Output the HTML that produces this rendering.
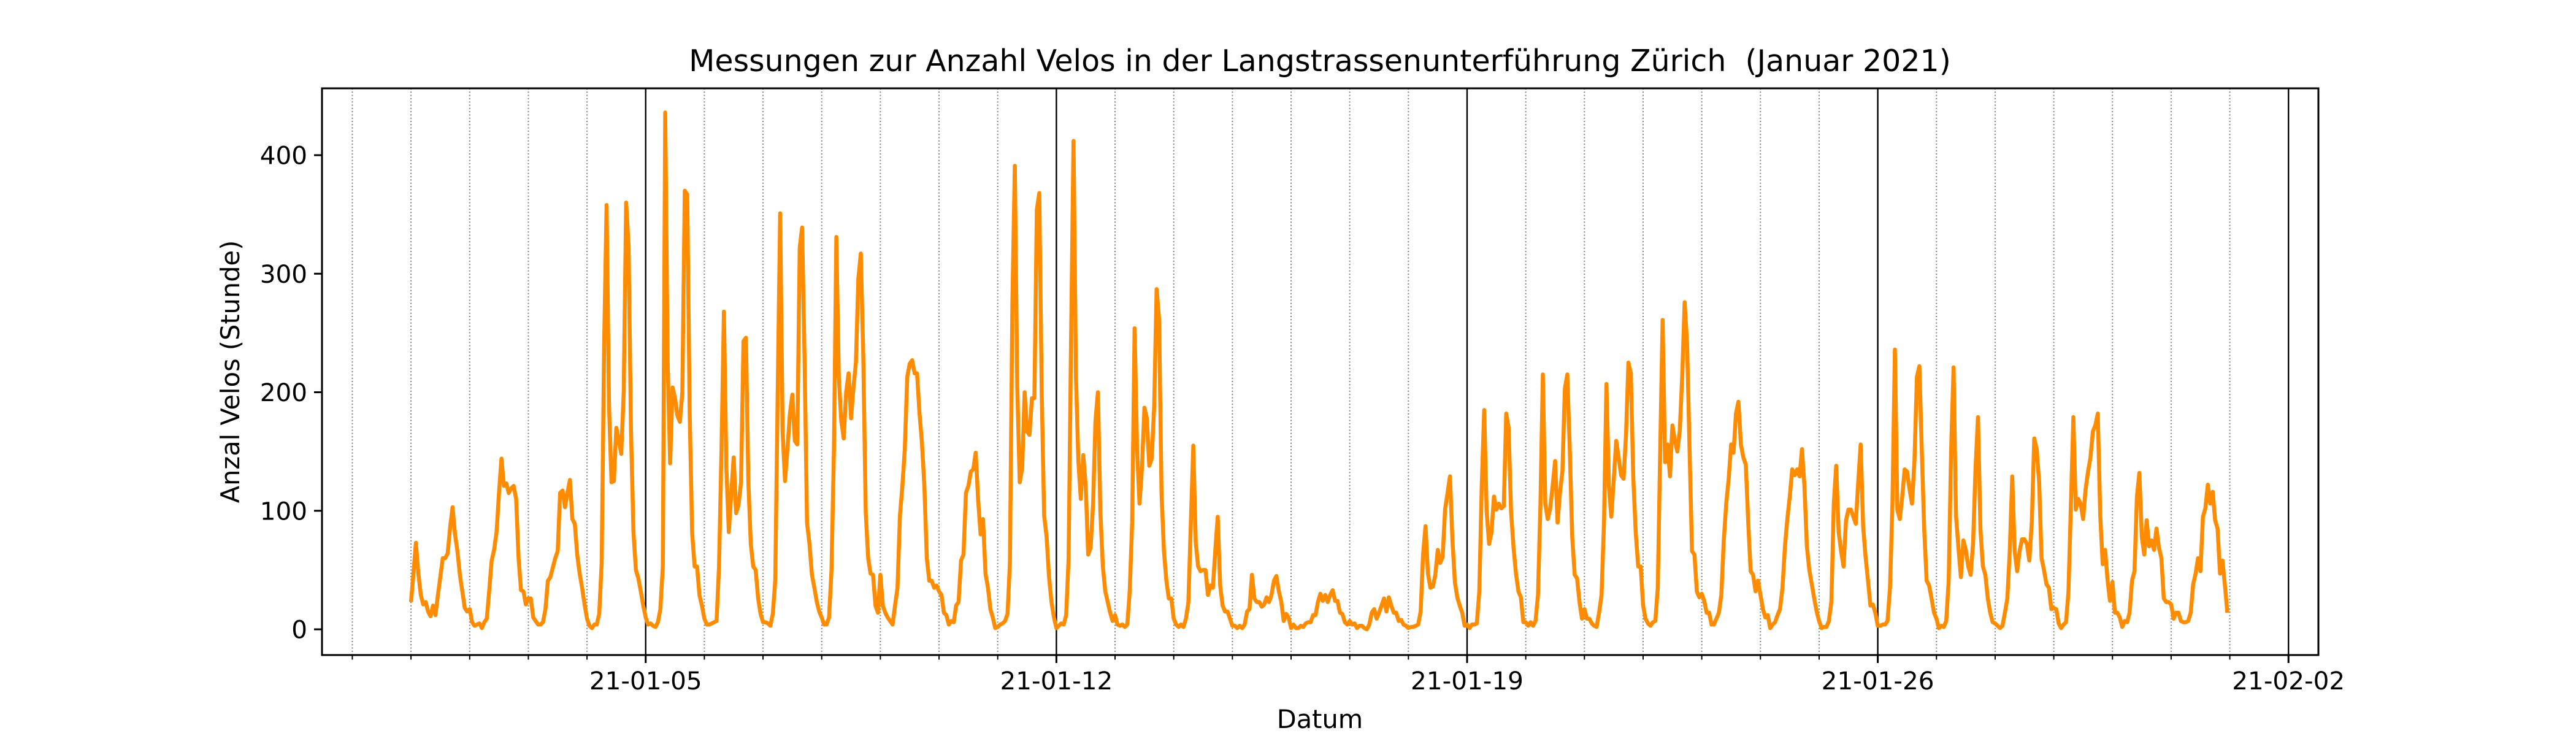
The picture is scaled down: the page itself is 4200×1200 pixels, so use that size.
<!DOCTYPE html>
<html><head><meta charset="utf-8"><style>
html,body{margin:0;padding:0;background:#fff;}
svg{display:block;font-family:"DejaVu Sans","Liberation Sans",sans-serif;}
</style></head><body>
<svg id="chart" width="4200" height="1200" viewBox="0 0 4200 1200" xmlns="http://www.w3.org/2000/svg">
<rect x="0" y="0" width="4200" height="1200" fill="#fff"/>
<text x="2152" y="116" font-size="49" text-anchor="middle">Messungen zur Anzahl Velos in der Langstrassenunterführung Zürich&#160;&#160;(Januar 2021)</text>
<g id="grid"></g>
<g id="series"></g>
<rect x="525" y="144" width="3255" height="924" fill="none" stroke="#000" stroke-width="3"/>
<g id="axes"></g>
<text transform="translate(390,606) rotate(-90)" font-size="41.5" text-anchor="middle">Anzal Velos (Stunde)</text>
<text x="2152" y="1187" font-size="41.5" text-anchor="middle">Datum</text>
</svg>
<script>
const d01=[23,47,73,47,29,21,23,15,11,20,12,29,44,60,60,64,86,103,80,66,46,32,18,15];
const d02=[17,6,3,4,5,1,6,9,33,58,67,82,115,144,121,123,115,119,121,110,60,33,32,21];
const d03=[26,26,10,7,4,4,6,17,41,44,52,60,66,115,117,103,115,126,93,89,63,47,35,21];
const d04=[9,3,1,4,4,13,56,240,358,188,124,125,170,160,148,200,360,323,167,82,50,43,32,20];
const d05=[10,4,5,3,2,6,17,53,436,225,140,204,195,180,175,200,370,367,182,81,53,53,29,20];
const d06=[9,4,4,5,6,7,53,150,268,136,82,115,145,98,105,124,243,246,124,72,53,50,26,13];
const d07=[6,6,5,3,13,41,200,351,167,125,152,182,198,159,156,322,339,228,90,72,46,35,23,15];
const d08=[10,4,4,10,50,152,331,213,176,161,200,216,178,204,225,296,317,231,99,60,47,46,20,14];
const d09=[46,20,14,10,7,4,20,35,96,121,152,213,224,227,216,216,182,158,121,60,41,41,35,37];
const d10=[32,29,14,12,4,7,6,20,23,58,63,115,121,133,135,149,109,80,93,47,35,17,10,1];
const d11=[2,4,5,7,13,56,274,391,204,124,136,200,167,164,195,195,354,368,198,96,78,44,23,10];
const d12=[1,3,5,4,12,60,244,412,213,142,110,147,121,63,69,106,176,200,99,53,32,23,14,7];
const d13=[12,4,3,4,2,4,32,90,254,152,106,136,187,178,138,144,188,287,262,115,66,41,26,26];
const d14=[9,4,2,4,2,9,23,90,155,73,53,49,50,50,29,37,35,66,95,37,20,15,15,9];
const d15=[3,3,1,3,1,4,15,17,46,26,23,23,19,21,27,23,29,41,45,32,23,7,13,10];
const d16=[1,4,1,1,3,2,5,6,6,12,12,23,30,24,29,23,29,33,24,24,14,13,6,4];
const d17=[7,4,5,1,3,3,1,0,4,14,17,9,14,20,26,15,27,20,14,14,7,8,4,3];
const d18=[1,2,2,3,4,15,63,87,47,35,36,46,67,56,61,101,115,129,75,40,27,20,14,3];
const d19=[4,1,4,4,5,32,121,185,99,72,82,112,101,106,102,104,182,170,99,69,47,32,27,6];
const d20=[6,3,6,3,7,29,106,215,106,93,102,121,142,90,115,133,203,215,152,78,46,43,23,9];
const d21=[17,9,9,5,3,2,14,29,90,207,121,95,126,159,145,130,127,164,225,216,127,81,53,53];
const d22=[20,9,5,3,6,7,35,152,261,141,156,129,172,159,150,167,213,276,241,152,66,63,32,27];
const d23=[30,24,14,14,4,4,9,14,29,75,106,127,156,149,182,192,156,145,139,90,49,46,32,41];
const d24=[29,17,10,12,1,4,6,12,17,35,69,93,112,135,130,135,129,152,121,70,50,38,26,15];
const d25=[7,1,2,2,7,23,106,138,82,66,53,92,101,101,95,89,124,156,87,61,41,20,21,14];
const d26=[3,3,4,4,7,35,106,236,101,93,112,135,133,118,106,142,213,222,152,84,41,37,26,14];
const d27=[9,1,3,2,7,41,152,221,96,69,44,75,67,53,46,73,136,179,84,53,46,26,14,6];
const d28=[5,3,1,3,14,26,66,129,66,49,66,76,76,72,58,90,161,152,124,60,50,38,35,17];
const d29=[18,17,5,1,4,6,32,106,179,101,110,106,93,118,133,145,167,172,182,96,55,67,41,24];
const d30=[40,14,14,10,2,7,6,14,41,49,112,132,78,63,92,70,75,67,85,69,60,26,23,23];
const d31=[21,9,14,14,7,6,6,7,14,38,47,60,49,95,102,122,106,116,92,85,47,58,37,14];
const hourlyCounts=[].concat(d01,d02,d03,d04,d05,d06,d07,d08,d09,d10,d11,d12,d13,d14,d15,d16,d17,d18,d19,d20,d21,d22,d23,d24,d25,d26,d27,d28,d29,d30,d31);
const yTicks=[0,100,200,300,400];
const majorDays=[4,11,18,25,32];
const majorLabels=["21-01-05","21-01-12","21-01-19","21-01-26","21-02-02"];

const NS="http://www.w3.org/2000/svg";
const L=525,R=3780,T=144,B=1068;
const XMIN=-1.517,XMAX=32.51,YMIN=-21.7,YMAX=456.4;
function xs(d){return L+(d-XMIN)/(XMAX-XMIN)*(R-L);}
function ys(v){return B-(v-YMIN)/(YMAX-YMIN)*(B-T);}
function mk(tag,attrs,parent){const e=document.createElementNS(NS,tag);for(const k in attrs)e.setAttribute(k,attrs[k]);parent.appendChild(e);return e;}
const grid=document.getElementById('grid'),axes=document.getElementById('axes'),series=document.getElementById('series');

for(let d=-1;d<=32;d++){
  const x=xs(d);
  if(majorDays.indexOf(d)>=0){
    const g=mk('line',{x1:x,x2:x,y1:T,y2:B,stroke:'#000','stroke-width':2.4},grid);
    
    
  } else {
    const g=mk('line',{x1:x,x2:x,y1:T,y2:B,stroke:'#808080','stroke-width':2,'stroke-dasharray':'2,3.3'},grid);
    
    
    const t=mk('line',{x1:x,x2:x,y1:B,y2:B+7.5,stroke:'#000','stroke-width':2},axes);
    
    
  }
}
majorDays.forEach((d,i)=>{
  const x=xs(d);
  const t=mk('line',{x1:x,x2:x,y1:B,y2:B+13,stroke:'#000','stroke-width':3},axes);
  
  
  const lb=mk('text',{x:x,y:B+56,'font-size':40.5,'text-anchor':'middle'},axes);
  lb.textContent=majorLabels[i];
  
  
});
yTicks.forEach(v=>{
  const y=ys(v);
  const t=mk('line',{x1:L-13,x2:L,y1:y,y2:y,stroke:'#000','stroke-width':3},axes);
  
  
  const lb=mk('text',{x:L-24,y:y+14.5,'font-size':40.5,'text-anchor':'end'},axes);
  lb.textContent=String(v);
  
  
});
const pts=hourlyCounts.map((v,i)=>xs(i/24).toFixed(1)+','+ys(v).toFixed(1)).join(' ');
const line=mk('polyline',{points:pts,fill:'none',stroke:'#ff8c00','stroke-width':6.5,'stroke-linejoin':'round','stroke-linecap':'butt'},series);


</script>
</body></html>
